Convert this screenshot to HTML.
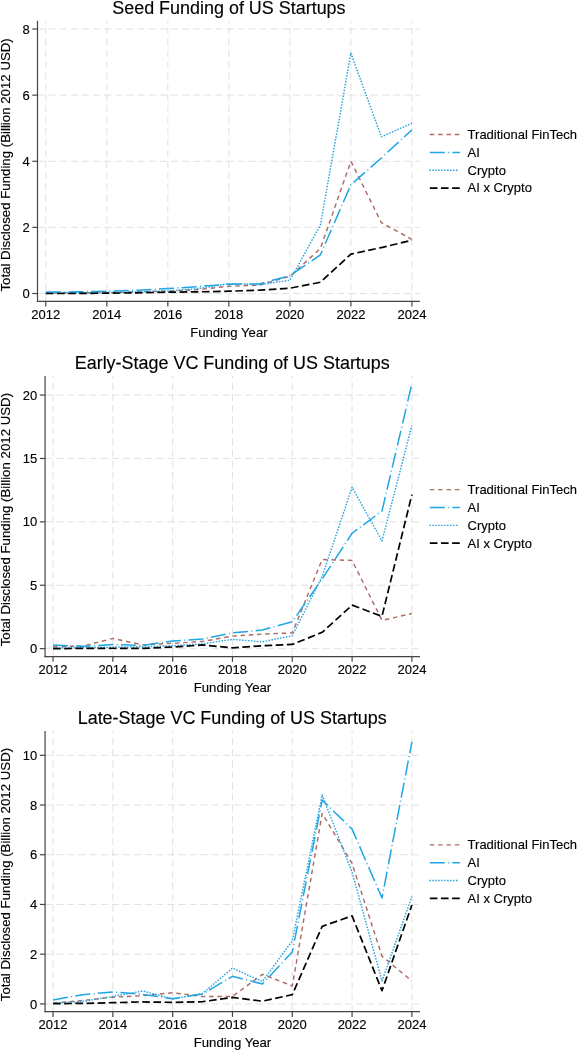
<!DOCTYPE html>
<html><head><meta charset="utf-8"><title>Funding of US Startups</title>
<style>
html,body{margin:0;padding:0;background:#fff;}
body{width:577px;height:1050px;overflow:hidden;}
svg{display:block;will-change:transform;}
text{font-family:"Liberation Sans",sans-serif;fill:#000;stroke:#000;stroke-width:0.14px;}
</style></head><body>
<svg width="577" height="1050" viewBox="0 0 577 1050">
<rect x="0" y="0" width="577" height="1050" fill="#ffffff"/>
<g>
<line x1="45.8" y1="301.4" x2="45.8" y2="20.8" stroke="#dfdfdf" stroke-width="0.95" stroke-dasharray="7.2 3.91"/>
<line x1="106.82" y1="301.4" x2="106.82" y2="20.8" stroke="#dfdfdf" stroke-width="0.95" stroke-dasharray="7.2 3.91"/>
<line x1="167.84" y1="301.4" x2="167.84" y2="20.8" stroke="#dfdfdf" stroke-width="0.95" stroke-dasharray="7.2 3.91"/>
<line x1="228.86" y1="301.4" x2="228.86" y2="20.8" stroke="#dfdfdf" stroke-width="0.95" stroke-dasharray="7.2 3.91"/>
<line x1="289.88" y1="301.4" x2="289.88" y2="20.8" stroke="#dfdfdf" stroke-width="0.95" stroke-dasharray="7.2 3.91"/>
<line x1="350.9" y1="301.4" x2="350.9" y2="20.8" stroke="#dfdfdf" stroke-width="0.95" stroke-dasharray="7.2 3.91"/>
<line x1="411.92" y1="301.4" x2="411.92" y2="20.8" stroke="#dfdfdf" stroke-width="0.95" stroke-dasharray="7.2 3.91"/>
<line x1="37.5" y1="293.5" x2="420" y2="293.5" stroke="#dfdfdf" stroke-width="0.95" stroke-dasharray="7.2 3.91"/>
<line x1="37.5" y1="227.38" x2="420" y2="227.38" stroke="#dfdfdf" stroke-width="0.95" stroke-dasharray="7.2 3.91"/>
<line x1="37.5" y1="161.26" x2="420" y2="161.26" stroke="#dfdfdf" stroke-width="0.95" stroke-dasharray="7.2 3.91"/>
<line x1="37.5" y1="95.14" x2="420" y2="95.14" stroke="#dfdfdf" stroke-width="0.95" stroke-dasharray="7.2 3.91"/>
<line x1="37.5" y1="29.02" x2="420" y2="29.02" stroke="#dfdfdf" stroke-width="0.95" stroke-dasharray="7.2 3.91"/>
<polyline points="45.8,292.84 76.31,292.84 106.82,292.51 137.33,291.85 167.84,291.19 198.35,289.53 228.86,286.23 259.37,285.24 289.88,276.31 320.39,248.54 350.9,161.26 381.41,222.75 411.92,239.28" fill="none" stroke="#ad6c65" stroke-width="1.45" stroke-dasharray="4.5 3.75" stroke-linejoin="round"/>
<polyline points="45.8,292.01 76.31,291.85 106.82,291.19 137.33,290.19 167.84,288.54 198.35,286.56 228.86,284.24 259.37,283.91 289.88,275.65 320.39,254.82 350.9,184.73 381.41,157.95 411.92,129.85" fill="none" stroke="#1fa6e4" stroke-width="1.5" stroke-dasharray="15.05 3.4 1.0 3.2" stroke-linejoin="round"/>
<polyline points="45.8,293.17 76.31,292.84 106.82,292.51 137.33,291.85 167.84,290.86 198.35,288.54 228.86,283.58 259.37,284.57 289.88,280.28 320.39,225.07 350.9,53.15 381.41,136.8 411.92,123.24" fill="none" stroke="#27a3dc" stroke-width="1.45" stroke-dasharray="1.5 1.46" stroke-linejoin="round"/>
<polyline points="45.8,293.5 76.31,293.5 106.82,293.17 137.33,292.84 167.84,292.18 198.35,291.85 228.86,291.19 259.37,290.19 289.88,288.21 320.39,282.26 350.9,254.16 381.41,247.55 411.92,240.27" fill="none" stroke="#000000" stroke-width="1.7" stroke-dasharray="7.65 3.5" stroke-linejoin="round"/>
<line x1="37.5" y1="20.8" x2="37.5" y2="302" stroke="#444444" stroke-width="1.2"/>
<line x1="36.9" y1="301.4" x2="420" y2="301.4" stroke="#444444" stroke-width="1.2"/>
<line x1="45.8" y1="301.4" x2="45.8" y2="306.6" stroke="#444444" stroke-width="1.2"/>
<text x="45.8" y="318.7" font-size="13" text-anchor="middle">2012</text>
<line x1="106.82" y1="301.4" x2="106.82" y2="306.6" stroke="#444444" stroke-width="1.2"/>
<text x="106.82" y="318.7" font-size="13" text-anchor="middle">2014</text>
<line x1="167.84" y1="301.4" x2="167.84" y2="306.6" stroke="#444444" stroke-width="1.2"/>
<text x="167.84" y="318.7" font-size="13" text-anchor="middle">2016</text>
<line x1="228.86" y1="301.4" x2="228.86" y2="306.6" stroke="#444444" stroke-width="1.2"/>
<text x="228.86" y="318.7" font-size="13" text-anchor="middle">2018</text>
<line x1="289.88" y1="301.4" x2="289.88" y2="306.6" stroke="#444444" stroke-width="1.2"/>
<text x="289.88" y="318.7" font-size="13" text-anchor="middle">2020</text>
<line x1="350.9" y1="301.4" x2="350.9" y2="306.6" stroke="#444444" stroke-width="1.2"/>
<text x="350.9" y="318.7" font-size="13" text-anchor="middle">2022</text>
<line x1="411.92" y1="301.4" x2="411.92" y2="306.6" stroke="#444444" stroke-width="1.2"/>
<text x="411.92" y="318.7" font-size="13" text-anchor="middle">2024</text>
<line x1="32.3" y1="293.5" x2="37.5" y2="293.5" stroke="#444444" stroke-width="1.2"/>
<text x="29.7" y="298.1" font-size="13" text-anchor="end">0</text>
<line x1="32.3" y1="227.38" x2="37.5" y2="227.38" stroke="#444444" stroke-width="1.2"/>
<text x="29.7" y="231.98" font-size="13" text-anchor="end">2</text>
<line x1="32.3" y1="161.26" x2="37.5" y2="161.26" stroke="#444444" stroke-width="1.2"/>
<text x="29.7" y="165.86" font-size="13" text-anchor="end">4</text>
<line x1="32.3" y1="95.14" x2="37.5" y2="95.14" stroke="#444444" stroke-width="1.2"/>
<text x="29.7" y="99.74" font-size="13" text-anchor="end">6</text>
<line x1="32.3" y1="29.02" x2="37.5" y2="29.02" stroke="#444444" stroke-width="1.2"/>
<text x="29.7" y="33.62" font-size="13" text-anchor="end">8</text>
<text x="228.86" y="337.1" font-size="13.15" text-anchor="middle">Funding Year</text>
<text transform="translate(9.6 164.9) rotate(-90)" font-size="13.25" text-anchor="middle">Total Disclosed Funding (Billion 2012 USD)</text>
<text x="228.9" y="13.9" font-size="17.94" text-anchor="middle">Seed Funding of US Startups</text>
<line x1="429.8" y1="134.45" x2="459.9" y2="134.45" stroke="#ad6c65" stroke-width="1.45" stroke-dasharray="4.5 3.85"/>
<text x="467.6" y="138.8" font-size="13">Traditional FinTech</text>
<line x1="429.8" y1="152.45" x2="459.9" y2="152.45" stroke="#1fa6e4" stroke-width="1.5" stroke-dasharray="15.05 3.4 1.0 3.2"/>
<text x="467.6" y="156.8" font-size="13">AI</text>
<line x1="429.35" y1="170.2" x2="458" y2="170.2" stroke="#27a3dc" stroke-width="1.45" stroke-dasharray="1.5 1.46"/>
<text x="467.6" y="174.55" font-size="13">Crypto</text>
<line x1="429.8" y1="188.1" x2="459.9" y2="188.1" stroke="#000000" stroke-width="1.7" stroke-dasharray="7.65 3.5"/>
<text x="467.6" y="192.45" font-size="13">AI x Crypto</text>
</g>
<g>
<line x1="53.05" y1="656.65" x2="53.05" y2="376.1" stroke="#dfdfdf" stroke-width="0.95" stroke-dasharray="7.2 3.91"/>
<line x1="112.86" y1="656.65" x2="112.86" y2="376.1" stroke="#dfdfdf" stroke-width="0.95" stroke-dasharray="7.2 3.91"/>
<line x1="172.67" y1="656.65" x2="172.67" y2="376.1" stroke="#dfdfdf" stroke-width="0.95" stroke-dasharray="7.2 3.91"/>
<line x1="232.47" y1="656.65" x2="232.47" y2="376.1" stroke="#dfdfdf" stroke-width="0.95" stroke-dasharray="7.2 3.91"/>
<line x1="292.28" y1="656.65" x2="292.28" y2="376.1" stroke="#dfdfdf" stroke-width="0.95" stroke-dasharray="7.2 3.91"/>
<line x1="352.09" y1="656.65" x2="352.09" y2="376.1" stroke="#dfdfdf" stroke-width="0.95" stroke-dasharray="7.2 3.91"/>
<line x1="411.9" y1="656.65" x2="411.9" y2="376.1" stroke="#dfdfdf" stroke-width="0.95" stroke-dasharray="7.2 3.91"/>
<line x1="45.07" y1="648.65" x2="420" y2="648.65" stroke="#dfdfdf" stroke-width="0.95" stroke-dasharray="7.2 3.91"/>
<line x1="45.07" y1="585.25" x2="420" y2="585.25" stroke="#dfdfdf" stroke-width="0.95" stroke-dasharray="7.2 3.91"/>
<line x1="45.07" y1="521.85" x2="420" y2="521.85" stroke="#dfdfdf" stroke-width="0.95" stroke-dasharray="7.2 3.91"/>
<line x1="45.07" y1="458.45" x2="420" y2="458.45" stroke="#dfdfdf" stroke-width="0.95" stroke-dasharray="7.2 3.91"/>
<line x1="45.07" y1="395.05" x2="420" y2="395.05" stroke="#dfdfdf" stroke-width="0.95" stroke-dasharray="7.2 3.91"/>
<polyline points="53.05,646.75 82.95,646.11 112.86,638.38 142.76,644.85 172.67,643.32 202.57,641.42 232.47,636.1 262.38,634.07 292.28,632.93 322.19,559.51 352.09,560.4 381.99,620.37 411.9,613.53" fill="none" stroke="#ad6c65" stroke-width="1.45" stroke-dasharray="4.5 3.75" stroke-linejoin="round"/>
<polyline points="53.05,644.97 82.95,646.37 112.86,644.47 142.76,645.48 172.67,640.92 202.57,639.01 232.47,632.93 262.38,630.01 292.28,621.77 322.19,578.91 352.09,533.26 381.99,511.07 411.9,383.64" fill="none" stroke="#1fa6e4" stroke-width="1.5" stroke-dasharray="15.05 3.4 1.0 3.2" stroke-linejoin="round"/>
<polyline points="53.05,648.02 82.95,647.64 112.86,647.13 142.76,646.75 172.67,645.73 202.57,643.83 232.47,639.39 262.38,641.8 292.28,635.72 322.19,576.37 352.09,487.36 381.99,540.87 411.9,425.48" fill="none" stroke="#27a3dc" stroke-width="1.45" stroke-dasharray="1.5 1.46" stroke-linejoin="round"/>
<polyline points="53.05,648.65 82.95,648.4 112.86,648.27 142.76,648.4 172.67,647 202.57,644.97 232.47,647.89 262.38,645.73 292.28,644.47 322.19,632.29 352.09,605.16 381.99,616.32 411.9,494.59" fill="none" stroke="#000000" stroke-width="1.7" stroke-dasharray="7.65 3.5" stroke-linejoin="round"/>
<line x1="45.07" y1="376.1" x2="45.07" y2="657.25" stroke="#444444" stroke-width="1.2"/>
<line x1="44.47" y1="656.65" x2="420" y2="656.65" stroke="#444444" stroke-width="1.2"/>
<line x1="53.05" y1="656.65" x2="53.05" y2="661.85" stroke="#444444" stroke-width="1.2"/>
<text x="53.05" y="673.95" font-size="13" text-anchor="middle">2012</text>
<line x1="112.86" y1="656.65" x2="112.86" y2="661.85" stroke="#444444" stroke-width="1.2"/>
<text x="112.86" y="673.95" font-size="13" text-anchor="middle">2014</text>
<line x1="172.67" y1="656.65" x2="172.67" y2="661.85" stroke="#444444" stroke-width="1.2"/>
<text x="172.67" y="673.95" font-size="13" text-anchor="middle">2016</text>
<line x1="232.47" y1="656.65" x2="232.47" y2="661.85" stroke="#444444" stroke-width="1.2"/>
<text x="232.47" y="673.95" font-size="13" text-anchor="middle">2018</text>
<line x1="292.28" y1="656.65" x2="292.28" y2="661.85" stroke="#444444" stroke-width="1.2"/>
<text x="292.28" y="673.95" font-size="13" text-anchor="middle">2020</text>
<line x1="352.09" y1="656.65" x2="352.09" y2="661.85" stroke="#444444" stroke-width="1.2"/>
<text x="352.09" y="673.95" font-size="13" text-anchor="middle">2022</text>
<line x1="411.9" y1="656.65" x2="411.9" y2="661.85" stroke="#444444" stroke-width="1.2"/>
<text x="411.9" y="673.95" font-size="13" text-anchor="middle">2024</text>
<line x1="39.87" y1="648.65" x2="45.07" y2="648.65" stroke="#444444" stroke-width="1.2"/>
<text x="37.27" y="653.25" font-size="13" text-anchor="end">0</text>
<line x1="39.87" y1="585.25" x2="45.07" y2="585.25" stroke="#444444" stroke-width="1.2"/>
<text x="37.27" y="589.85" font-size="13" text-anchor="end">5</text>
<line x1="39.87" y1="521.85" x2="45.07" y2="521.85" stroke="#444444" stroke-width="1.2"/>
<text x="37.27" y="526.45" font-size="13" text-anchor="end">10</text>
<line x1="39.87" y1="458.45" x2="45.07" y2="458.45" stroke="#444444" stroke-width="1.2"/>
<text x="37.27" y="463.05" font-size="13" text-anchor="end">15</text>
<line x1="39.87" y1="395.05" x2="45.07" y2="395.05" stroke="#444444" stroke-width="1.2"/>
<text x="37.27" y="399.65" font-size="13" text-anchor="end">20</text>
<text x="232.47" y="692.35" font-size="13.15" text-anchor="middle">Funding Year</text>
<text transform="translate(9.6 519.6) rotate(-90)" font-size="13.25" text-anchor="middle">Total Disclosed Funding (Billion 2012 USD)</text>
<text x="232.25" y="368.6" font-size="17.94" text-anchor="middle">Early-Stage VC Funding of US Startups</text>
<line x1="429.8" y1="489.6" x2="459.9" y2="489.6" stroke="#ad6c65" stroke-width="1.45" stroke-dasharray="4.5 3.85"/>
<text x="467.6" y="493.95" font-size="13">Traditional FinTech</text>
<line x1="429.8" y1="507.55" x2="459.9" y2="507.55" stroke="#1fa6e4" stroke-width="1.5" stroke-dasharray="15.05 3.4 1.0 3.2"/>
<text x="467.6" y="511.9" font-size="13">AI</text>
<line x1="429.35" y1="525.35" x2="458" y2="525.35" stroke="#27a3dc" stroke-width="1.45" stroke-dasharray="1.5 1.46"/>
<text x="467.6" y="529.7" font-size="13">Crypto</text>
<line x1="429.8" y1="543.2" x2="459.9" y2="543.2" stroke="#000000" stroke-width="1.7" stroke-dasharray="7.65 3.5"/>
<text x="467.6" y="547.55" font-size="13">AI x Crypto</text>
</g>
<g>
<line x1="53.05" y1="1011.7" x2="53.05" y2="731.1" stroke="#dfdfdf" stroke-width="0.95" stroke-dasharray="7.2 3.91"/>
<line x1="112.86" y1="1011.7" x2="112.86" y2="731.1" stroke="#dfdfdf" stroke-width="0.95" stroke-dasharray="7.2 3.91"/>
<line x1="172.67" y1="1011.7" x2="172.67" y2="731.1" stroke="#dfdfdf" stroke-width="0.95" stroke-dasharray="7.2 3.91"/>
<line x1="232.47" y1="1011.7" x2="232.47" y2="731.1" stroke="#dfdfdf" stroke-width="0.95" stroke-dasharray="7.2 3.91"/>
<line x1="292.28" y1="1011.7" x2="292.28" y2="731.1" stroke="#dfdfdf" stroke-width="0.95" stroke-dasharray="7.2 3.91"/>
<line x1="352.09" y1="1011.7" x2="352.09" y2="731.1" stroke="#dfdfdf" stroke-width="0.95" stroke-dasharray="7.2 3.91"/>
<line x1="411.9" y1="1011.7" x2="411.9" y2="731.1" stroke="#dfdfdf" stroke-width="0.95" stroke-dasharray="7.2 3.91"/>
<line x1="45.07" y1="1003.9" x2="420" y2="1003.9" stroke="#dfdfdf" stroke-width="0.95" stroke-dasharray="7.2 3.91"/>
<line x1="45.07" y1="954.18" x2="420" y2="954.18" stroke="#dfdfdf" stroke-width="0.95" stroke-dasharray="7.2 3.91"/>
<line x1="45.07" y1="904.46" x2="420" y2="904.46" stroke="#dfdfdf" stroke-width="0.95" stroke-dasharray="7.2 3.91"/>
<line x1="45.07" y1="854.74" x2="420" y2="854.74" stroke="#dfdfdf" stroke-width="0.95" stroke-dasharray="7.2 3.91"/>
<line x1="45.07" y1="805.02" x2="420" y2="805.02" stroke="#dfdfdf" stroke-width="0.95" stroke-dasharray="7.2 3.91"/>
<line x1="45.07" y1="755.3" x2="420" y2="755.3" stroke="#dfdfdf" stroke-width="0.95" stroke-dasharray="7.2 3.91"/>
<polyline points="53.05,1003.15 82.95,1000.42 112.86,997.19 142.76,995.7 172.67,992.71 202.57,996.44 232.47,996.44 262.38,974.32 292.28,986 322.19,813.47 352.09,863.44 381.99,956.17 411.9,981.03" fill="none" stroke="#ad6c65" stroke-width="1.45" stroke-dasharray="4.5 3.75" stroke-linejoin="round"/>
<polyline points="53.05,999.92 82.95,994.7 112.86,991.97 142.76,994.45 172.67,998.68 202.57,993.96 232.47,976.31 262.38,984.01 292.28,951.94 322.19,800.05 352.09,829.13 381.99,898 411.9,741.88" fill="none" stroke="#1fa6e4" stroke-width="1.5" stroke-dasharray="15.05 3.4 1.0 3.2" stroke-linejoin="round"/>
<polyline points="53.05,1003.15 82.95,1001.41 112.86,996.44 142.76,990.97 172.67,998.93 202.57,993.46 232.47,968.1 262.38,981.53 292.28,940.76 322.19,795.08 352.09,872.14 381.99,981.03 411.9,896.5" fill="none" stroke="#27a3dc" stroke-width="1.45" stroke-dasharray="1.5 1.46" stroke-linejoin="round"/>
<polyline points="53.05,1003.65 82.95,1003.4 112.86,1002.66 142.76,1001.91 172.67,1002.41 202.57,1001.66 232.47,997.44 262.38,1001.17 292.28,994.7 322.19,926.34 352.09,915.9 381.99,990.72 411.9,904.96" fill="none" stroke="#000000" stroke-width="1.7" stroke-dasharray="7.65 3.5" stroke-linejoin="round"/>
<line x1="45.07" y1="731.1" x2="45.07" y2="1012.3" stroke="#444444" stroke-width="1.2"/>
<line x1="44.47" y1="1011.7" x2="420" y2="1011.7" stroke="#444444" stroke-width="1.2"/>
<line x1="53.05" y1="1011.7" x2="53.05" y2="1016.9" stroke="#444444" stroke-width="1.2"/>
<text x="53.05" y="1029" font-size="13" text-anchor="middle">2012</text>
<line x1="112.86" y1="1011.7" x2="112.86" y2="1016.9" stroke="#444444" stroke-width="1.2"/>
<text x="112.86" y="1029" font-size="13" text-anchor="middle">2014</text>
<line x1="172.67" y1="1011.7" x2="172.67" y2="1016.9" stroke="#444444" stroke-width="1.2"/>
<text x="172.67" y="1029" font-size="13" text-anchor="middle">2016</text>
<line x1="232.47" y1="1011.7" x2="232.47" y2="1016.9" stroke="#444444" stroke-width="1.2"/>
<text x="232.47" y="1029" font-size="13" text-anchor="middle">2018</text>
<line x1="292.28" y1="1011.7" x2="292.28" y2="1016.9" stroke="#444444" stroke-width="1.2"/>
<text x="292.28" y="1029" font-size="13" text-anchor="middle">2020</text>
<line x1="352.09" y1="1011.7" x2="352.09" y2="1016.9" stroke="#444444" stroke-width="1.2"/>
<text x="352.09" y="1029" font-size="13" text-anchor="middle">2022</text>
<line x1="411.9" y1="1011.7" x2="411.9" y2="1016.9" stroke="#444444" stroke-width="1.2"/>
<text x="411.9" y="1029" font-size="13" text-anchor="middle">2024</text>
<line x1="39.87" y1="1003.9" x2="45.07" y2="1003.9" stroke="#444444" stroke-width="1.2"/>
<text x="37.27" y="1008.5" font-size="13" text-anchor="end">0</text>
<line x1="39.87" y1="954.18" x2="45.07" y2="954.18" stroke="#444444" stroke-width="1.2"/>
<text x="37.27" y="958.78" font-size="13" text-anchor="end">2</text>
<line x1="39.87" y1="904.46" x2="45.07" y2="904.46" stroke="#444444" stroke-width="1.2"/>
<text x="37.27" y="909.06" font-size="13" text-anchor="end">4</text>
<line x1="39.87" y1="854.74" x2="45.07" y2="854.74" stroke="#444444" stroke-width="1.2"/>
<text x="37.27" y="859.34" font-size="13" text-anchor="end">6</text>
<line x1="39.87" y1="805.02" x2="45.07" y2="805.02" stroke="#444444" stroke-width="1.2"/>
<text x="37.27" y="809.62" font-size="13" text-anchor="end">8</text>
<line x1="39.87" y1="755.3" x2="45.07" y2="755.3" stroke="#444444" stroke-width="1.2"/>
<text x="37.27" y="759.9" font-size="13" text-anchor="end">10</text>
<text x="232.47" y="1047.4" font-size="13.15" text-anchor="middle">Funding Year</text>
<text transform="translate(9.6 874.5) rotate(-90)" font-size="13.25" text-anchor="middle">Total Disclosed Funding (Billion 2012 USD)</text>
<text x="232.25" y="723.6" font-size="17.94" text-anchor="middle">Late-Stage VC Funding of US Startups</text>
<line x1="429.8" y1="844.85" x2="459.9" y2="844.85" stroke="#ad6c65" stroke-width="1.45" stroke-dasharray="4.5 3.85"/>
<text x="467.6" y="849.2" font-size="13">Traditional FinTech</text>
<line x1="429.8" y1="862.8" x2="459.9" y2="862.8" stroke="#1fa6e4" stroke-width="1.5" stroke-dasharray="15.05 3.4 1.0 3.2"/>
<text x="467.6" y="867.15" font-size="13">AI</text>
<line x1="429.35" y1="880.55" x2="458" y2="880.55" stroke="#27a3dc" stroke-width="1.45" stroke-dasharray="1.5 1.46"/>
<text x="467.6" y="884.9" font-size="13">Crypto</text>
<line x1="429.8" y1="898.3" x2="459.9" y2="898.3" stroke="#000000" stroke-width="1.7" stroke-dasharray="7.65 3.5"/>
<text x="467.6" y="902.65" font-size="13">AI x Crypto</text>
</g>
</svg>
</body></html>
